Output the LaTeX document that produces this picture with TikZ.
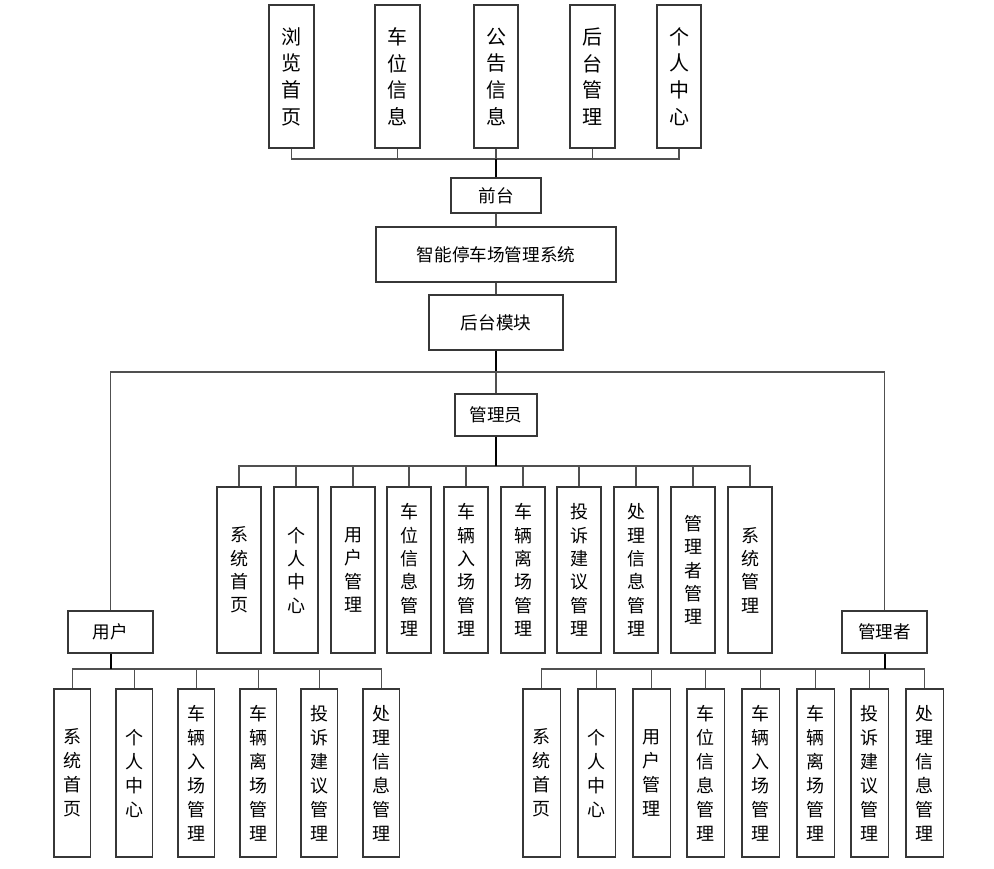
\documentclass[tikz,border=0pt]{standalone}
\usepackage{fontspec}
\newfontfamily\cjk{Noto Sans CJK SC}
\definecolor{boxc}{RGB}{55,55,55}
\definecolor{lnc}{RGB}{80,80,80}
\newcommand\mybox[7]{\node[#1, minimum width={(#4-#2)*0.75pt}, minimum height={(#5-#3)*0.75pt}] (#6) at ({(#2+#4)/2},{(#3+#5)/2}) {#7};}
\begin{document}
\begin{tikzpicture}[x=0.75pt,y=-0.75pt,
  bx/.style={draw=boxc, line width=0.9pt, fill=white, inner sep=0pt, align=center, font=\cjk\fontsize{13.2}{16}\selectfont},
  vtop/.style={bx, font=\cjk\fontsize{15}{20}\selectfont},
  vmid/.style={bx, font=\cjk\fontsize{13.5}{17.5}\selectfont},
  vbot/.style={bx, font=\cjk\fontsize{13.5}{18}\selectfont},
  ln/.style={draw=lnc, line width=0.8pt},
  trunk/.style={draw=black, line width=1.5pt}]
\fill[white] (0,0) rectangle (994,868);
\useasboundingbox (0,0) rectangle (994,868);
% top
\mybox{vtop}{269}{5}{314}{148}{t1}{浏\\览\\首\\页}
\mybox{vtop}{375}{5}{420}{148}{t2}{车\\位\\信\\息}
\mybox{vtop}{474}{5}{518}{148}{t3}{公\\告\\信\\息}
\mybox{vtop}{570}{5}{615}{148}{t4}{后\\台\\管\\理}
\mybox{vtop}{657}{5}{701}{148}{t5}{个\\人\\中\\心}
\mybox{bx}{451}{178}{541}{213}{qt}{前台}
\mybox{bx}{376}{227}{616}{282}{sys}{智能停车场管理系统}
\mybox{bx}{429}{295}{563}{350}{ht}{后台模块}
\mybox{bx}{455}{394}{537}{436}{gly}{管理员}
\mybox{bx}{68}{611}{153}{653}{yh}{用户}
\mybox{bx}{842}{611}{927}{653}{glz}{管理者}
% middle children
\foreach \i/\l/\t in {1/217/{系\\统\\首\\页},2/274/{个\\人\\中\\心},3/331/{用\\户\\管\\理},4/387/{车\\位\\信\\息\\管\\理},5/444/{车\\辆\\入\\场\\管\\理},6/501/{车\\辆\\离\\场\\管\\理},7/557/{投\\诉\\建\\议\\管\\理},8/614/{处\\理\\信\\息\\管\\理},9/671/{管\\理\\者\\管\\理},10/728/{系\\统\\管\\理}}{
  \mybox{vmid}{\l}{487}{\l+44}{653}{m\i}{\t}
}
% user children
\foreach \i/\l/\t in {1/54/{系\\统\\首\\页},2/116/{个\\人\\中\\心},3/178/{车\\辆\\入\\场\\管\\理},4/240/{车\\辆\\离\\场\\管\\理},5/301/{投\\诉\\建\\议\\管\\理},6/363/{处\\理\\信\\息\\管\\理}}{
  \mybox{vbot}{\l}{689}{\l+36.5}{857}{u\i}{\t}
}
% manager children
\foreach \i/\l/\t in {1/523/{系\\统\\首\\页},2/578/{个\\人\\中\\心},3/633/{用\\户\\管\\理},4/687/{车\\位\\信\\息\\管\\理},5/742/{车\\辆\\入\\场\\管\\理},6/797/{车\\辆\\离\\场\\管\\理},7/851/{投\\诉\\建\\议\\管\\理},8/906/{处\\理\\信\\息\\管\\理}}{
  \mybox{vbot}{\l}{689}{\l+37.5}{857}{a\i}{\t}
}
% connectors
\coordinate (bus1) at (496,159);
\coordinate (split) at (496,372);
\coordinate (bus2) at (496,466);
\coordinate (bus3) at (110.5,669);
\coordinate (bus4) at (884.5,669);
\foreach \i in {1,...,5}{\draw[ln] (t\i.south) |- (bus1);}
\draw[trunk] (qt.north) -- (bus1);
\draw[ln] (qt.south) -- (sys.north);
\draw[ln] (sys.south) -- (ht.north);
\draw[trunk] (ht.south) -- (split);
\draw[ln] (split) -- (gly.north);
\draw[ln] (yh.north) |- (split);
\draw[ln] (glz.north) |- (split);
\foreach \i in {1,...,10}{\draw[ln] (m\i.north) |- (bus2);}
\draw[trunk] (gly.south) -- (bus2);
\foreach \i in {1,...,6}{\draw[ln] (u\i.north) |- (bus3);}
\draw[trunk] (yh.south) -- (bus3);
\foreach \i in {1,...,8}{\draw[ln] (a\i.north) |- (bus4);}
\draw[trunk] (glz.south) -- (bus4);
\end{tikzpicture}
\end{document}
